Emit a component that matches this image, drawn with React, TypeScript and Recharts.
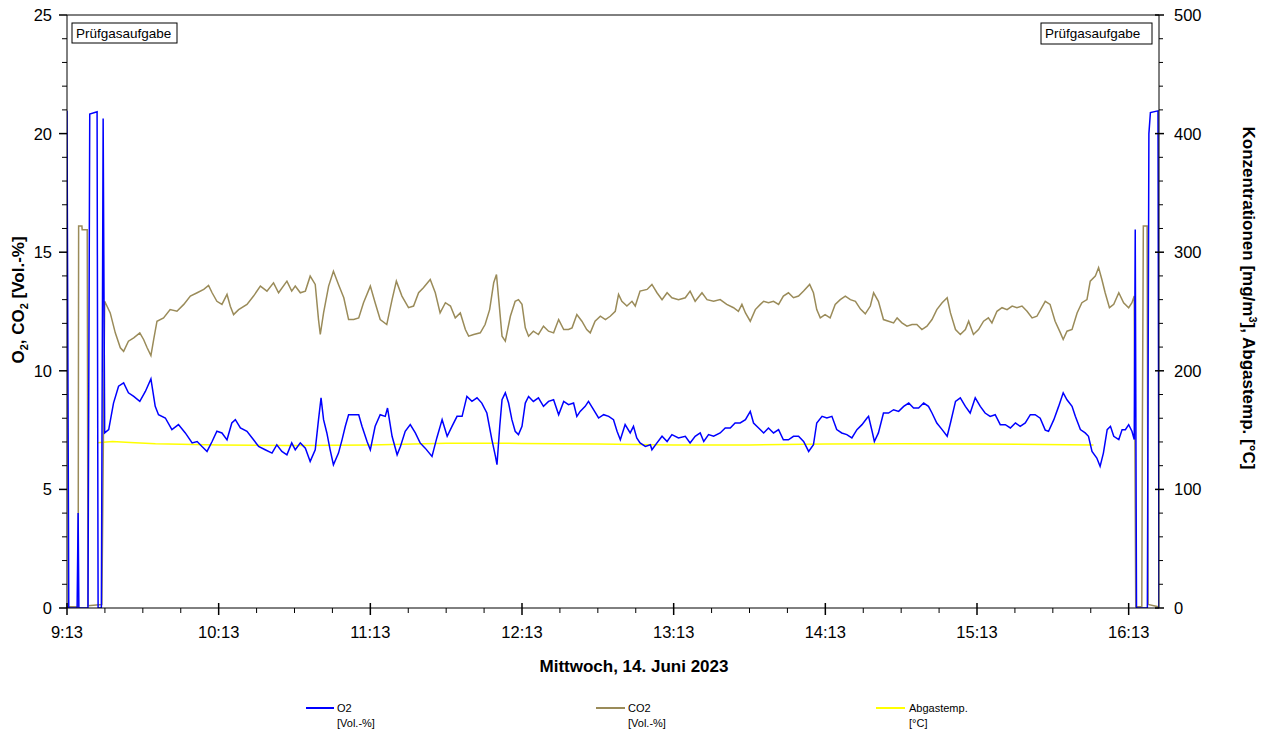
import React from 'react';
import { LineChart, Line, XAxis, YAxis } from 'recharts';

const FONT = 'Liberation Sans, Arial, Helvetica, sans-serif';

// minutes after 9:13
const startClock = 9 * 60 + 13;
const timeTicks = [0, 15, 30, 45, 60, 75, 90, 105, 120, 135, 150, 165, 180, 195, 210, 225, 240, 255, 270, 285, 300, 315, 330, 345, 360, 375, 390, 405, 420];
const volTicks = [0, 1, 2, 3, 4, 5, 6, 7, 8, 9, 10, 11, 12, 13, 14, 15, 16, 17, 18, 19, 20, 21, 22, 23, 24, 25];
const tempTicks = [0, 20, 40, 60, 80, 100, 120, 140, 160, 180, 200, 220, 240, 260, 280, 300, 320, 340, 360, 380, 400, 420, 440, 460, 480, 500];

// [minute, Vol.-%]
const o2Points: [number, number][] = [
  [0, 20.96], [0.7, 0], [4.0, 0], [4.4, 4.0], [4.7, 0], [8.3, 0], [9.0, 20.82], [11.9, 20.92], [12.3, 0], [13.6, 0],
  [14.3, 20.64], [14.9, 7.38], [16.5, 7.52], [18.4, 8.64], [20.4, 9.35], [22.4, 9.49], [24.3, 9.07], [26.4, 8.92],
  [28.8, 8.71], [31.0, 9.13], [33.2, 9.66], [34.9, 8.5], [36.2, 8.15], [38.9, 8.01], [41.5, 7.52], [44.1, 7.73],
  [46.8, 7.38], [49.5, 6.96], [51.5, 7.02], [53.4, 6.81], [55.4, 6.6], [57.4, 7.02], [59.3, 7.45], [61.3, 7.38],
  [63.3, 7.09], [65.2, 7.8], [66.6, 7.94], [68.6, 7.59], [71.2, 7.45], [73.8, 7.09], [75.8, 6.81], [78.4, 6.67],
  [81.1, 6.53], [83.0, 6.88], [85.0, 6.6], [87.0, 6.46], [88.9, 6.96], [90.3, 6.67], [92.3, 6.96], [94.3, 6.74],
  [96.2, 6.18], [98.2, 6.67], [99.5, 7.94], [100.5, 8.86], [101.5, 7.94], [102.8, 7.38], [104.1, 6.67], [105.4, 6.04],
  [107.4, 6.53], [108.8, 7.09], [110.1, 7.66], [111.4, 8.15], [113.4, 8.15], [115.4, 8.15], [116.7, 7.66], [118.7, 7.02],
  [120.0, 6.67], [121.9, 7.66], [123.9, 8.15], [125.9, 8.08], [126.8, 8.43], [128.6, 7.24], [130.6, 6.46], [131.9, 6.81],
  [133.8, 7.45], [135.8, 7.73], [137.8, 7.38], [139.7, 6.96], [141.7, 6.74], [144.4, 6.39], [146.3, 7.17], [148.4, 7.94],
  [150.4, 7.24], [152.3, 7.66], [154.3, 8.08], [156.3, 8.08], [158.2, 8.92], [160.2, 8.71], [162.2, 8.86], [164.1, 8.64],
  [166.1, 8.22], [168.1, 7.09], [169.5, 6.39], [170.1, 6.04], [171.2, 7.66], [172.1, 8.78], [173.4, 9.07], [174.7, 8.64],
  [176.0, 7.94], [177.3, 7.45], [178.6, 7.31], [180.0, 7.66], [181.3, 8.64], [182.6, 8.92], [184.5, 8.71], [186.5, 8.86],
  [188.5, 8.5], [190.5, 8.71], [192.5, 8.78], [194.5, 8.15], [196.5, 8.71], [198.4, 8.57], [200.4, 8.64], [201.7, 8.08],
  [203.0, 8.29], [205.0, 8.5], [206.3, 8.71], [208.3, 8.36], [210.3, 8.01], [212.3, 8.15], [214.3, 8.08], [216.2, 7.94],
  [217.6, 7.45], [218.9, 7.09], [220.8, 7.73], [222.8, 7.38], [224.1, 7.66], [225.4, 7.17], [226.7, 6.96], [228.8, 6.81],
  [230.8, 6.88], [231.4, 6.67], [233.4, 6.96], [235.4, 7.24], [237.4, 7.02], [239.3, 7.31], [241.9, 7.17], [244.6, 7.24],
  [246.5, 6.96], [248.5, 7.24], [250.5, 7.38], [251.9, 7.02], [253.8, 7.31], [255.8, 7.24], [258.4, 7.38], [260.4, 7.59],
  [262.4, 7.59], [264.3, 7.8], [266.3, 7.8], [268.4, 7.94], [270.3, 8.29], [271.6, 7.8], [273.6, 7.59], [275.6, 7.38],
  [277.5, 7.59], [279.5, 7.38], [281.5, 7.52], [283.4, 7.09], [285.4, 7.09], [287.4, 7.24], [289.4, 7.24], [291.4, 7.02],
  [293.4, 6.6], [295.3, 6.88], [296.6, 7.8], [298.7, 8.08], [300.6, 8.01], [302.6, 8.08], [304.5, 7.52], [306.5, 7.38],
  [308.5, 7.31], [310.5, 7.17], [312.5, 7.52], [314.5, 7.73], [316.5, 8.01], [317.1, 8.08], [318.5, 7.45], [319.4, 7.02],
  [321.0, 7.38], [323.0, 8.22], [325.0, 8.22], [327.0, 8.36], [329.0, 8.29], [331.0, 8.5], [333.0, 8.64], [334.9, 8.43],
  [336.9, 8.43], [338.9, 8.64], [340.8, 8.5], [342.2, 8.22], [344.1, 7.8], [346.2, 7.52], [348.2, 7.24], [349.5, 7.8],
  [351.5, 8.71], [353.4, 8.86], [355.4, 8.5], [357.3, 8.22], [359.3, 8.86], [361.3, 8.5], [363.2, 8.22], [365.2, 8.08],
  [367.2, 8.15], [369.2, 7.73], [371.2, 7.73], [373.2, 7.59], [375.2, 7.8], [377.1, 7.66], [379.1, 7.8], [381.1, 8.15],
  [383.0, 8.15], [385.0, 8.0], [387.0, 7.5], [388.3, 7.45], [390.4, 7.94], [392.3, 8.5], [394.1, 9.07], [395.6, 8.78],
  [397.6, 8.5], [398.9, 8.08], [400.9, 7.52], [402.8, 7.38], [404.1, 7.24], [405.5, 6.6], [407.4, 6.32], [408.7, 5.97],
  [410.0, 6.53], [411.5, 7.52], [412.8, 7.66], [414.1, 7.24], [416.1, 7.1], [417.4, 7.52], [418.7, 7.52], [420.0, 7.73],
  [421.3, 7.45], [422.2, 7.1], [422.6, 15.96], [423.1, 0], [427.4, 0], [428.0, 20.0], [428.6, 20.89], [431.6, 20.96], [432.0, 0],
];

const co2Points: [number, number][] = [
  [0, 0.05], [4.4, 0.05], [4.6, 16.1], [5.9, 16.1], [6.0, 15.95], [8.0, 15.95], [8.3, 0.1], [13.8, 0.15], [14.9, 12.93],
  [17.1, 12.44], [19.1, 11.6], [21.1, 10.97], [22.4, 10.82], [24.3, 11.25], [26.4, 11.39], [28.8, 11.6], [30.3, 11.32],
  [31.7, 10.97], [33.2, 10.64], [34.3, 11.32], [35.6, 12.09], [38.2, 12.23], [40.8, 12.58], [43.5, 12.51], [46.2, 12.8],
  [48.8, 13.15], [51.5, 13.29], [54.1, 13.43], [56.0, 13.6], [57.4, 13.29], [59.3, 12.93], [61.3, 12.8], [63.3, 13.22],
  [64.6, 12.72], [65.9, 12.37], [67.9, 12.58], [71.2, 12.8], [73.8, 13.15], [76.5, 13.57], [79.1, 13.36], [81.7, 13.71],
  [83.7, 13.29], [87.0, 13.78], [88.9, 13.36], [90.3, 13.57], [92.3, 13.29], [94.3, 13.36], [96.2, 13.99], [98.2, 13.64],
  [99.5, 12.16], [100.2, 11.53], [101.5, 12.44], [103.5, 13.57], [105.4, 14.2], [107.4, 13.64], [109.5, 13.08], [111.4, 12.16],
  [113.4, 12.16], [115.4, 12.23], [117.3, 12.87], [120.0, 13.57], [121.9, 12.87], [123.9, 12.16], [126.5, 11.95], [128.6, 13.0],
  [130.3, 13.78], [132.5, 13.15], [135.1, 12.66], [137.1, 12.73], [139.1, 13.29], [141.0, 13.5], [143.7, 13.85], [145.7, 13.29],
  [147.6, 12.44], [149.7, 12.87], [151.7, 12.73], [153.6, 12.23], [155.6, 12.44], [157.6, 11.74], [158.9, 11.46], [160.9, 11.53],
  [163.5, 11.6], [165.4, 11.95], [167.2, 12.58], [168.8, 13.71], [169.9, 14.06], [170.8, 13.0], [172.1, 11.46], [173.4, 11.25],
  [175.4, 12.3], [177.3, 12.93], [178.6, 13.0], [180.0, 12.8], [181.3, 11.81], [182.6, 11.46], [184.5, 11.67], [186.5, 11.53],
  [188.5, 11.88], [190.5, 11.67], [192.5, 11.6], [194.5, 12.16], [196.5, 11.74], [198.4, 11.74], [199.8, 11.81], [201.7, 12.37],
  [203.7, 12.09], [205.6, 11.74], [207.0, 11.6], [208.9, 12.09], [211.0, 12.3], [213.0, 12.16], [214.9, 12.3], [216.9, 12.51],
  [218.2, 13.22], [219.5, 12.93], [221.5, 12.73], [223.5, 12.93], [224.8, 12.73], [226.7, 13.36], [229.5, 13.43], [231.4, 13.64],
  [233.4, 13.29], [235.4, 13.0], [237.4, 13.29], [239.3, 13.08], [241.9, 13.0], [244.6, 13.08], [246.5, 13.36], [248.5, 12.93],
  [251.2, 13.29], [253.2, 13.0], [255.8, 12.93], [258.4, 13.0], [261.0, 12.8], [263.7, 12.66], [265.6, 12.51], [267.0, 12.8],
  [268.4, 12.44], [270.3, 12.09], [272.3, 12.58], [274.3, 12.8], [275.6, 12.93], [277.5, 12.87], [279.5, 12.93], [281.5, 12.8],
  [283.4, 13.15], [285.4, 13.29], [287.4, 13.08], [289.4, 13.15], [291.4, 13.36], [293.8, 13.64], [295.3, 13.29], [296.6, 12.58],
  [298.0, 12.23], [299.9, 12.37], [301.9, 12.23], [303.9, 12.8], [305.9, 13.0], [307.9, 13.15], [309.9, 13.0], [311.9, 12.93],
  [313.9, 12.6], [315.8, 12.4], [317.8, 12.73], [319.1, 13.29], [321.0, 12.93], [323.0, 12.16], [325.0, 12.09], [327.0, 12.02],
  [328.4, 12.23], [330.3, 12.02], [332.3, 11.88], [334.3, 11.95], [336.2, 11.95], [338.2, 11.74], [340.2, 11.88], [342.2, 12.16],
  [344.1, 12.58], [346.2, 12.87], [348.2, 13.08], [349.5, 12.44], [351.5, 11.74], [353.4, 11.53], [355.4, 11.74], [356.7, 12.09],
  [358.6, 11.53], [360.6, 11.74], [362.6, 12.09], [364.5, 12.23], [365.9, 12.02], [367.9, 12.51], [369.9, 12.66], [371.9, 12.58],
  [373.9, 12.73], [375.8, 12.66], [377.8, 12.73], [379.8, 12.51], [381.8, 12.23], [383.7, 12.3], [387.0, 12.93], [388.9, 12.8],
  [390.9, 12.09], [393.0, 11.6], [394.1, 11.32], [395.6, 11.67], [397.6, 11.74], [399.6, 12.44], [401.5, 12.87], [403.5, 13.0],
  [404.8, 13.78], [406.8, 13.99], [408.1, 14.35], [409.4, 13.85], [410.7, 13.29], [412.4, 12.66], [414.1, 12.8], [416.1, 13.29],
  [418.0, 12.87], [420.0, 12.66], [421.3, 12.87], [422.2, 13.15], [422.8, 0.05], [425.2, 0.05], [425.4, 7.1], [425.8, 16.1],
  [427.3, 16.1], [427.7, 0.15], [431.7, 0.05],
];

// [minute, °C]
const tempPoints: [number, number][] = [
  [12.0, 139.4], [18, 140.3], [25, 139.5], [35, 138.5], [60, 137.5], [90, 137.0], [120, 137.5], [150, 139.0],
  [180, 138.8], [210, 138.3], [240, 137.5], [270, 137.5], [300, 138.3], [330, 138.5], [360, 138.3], [406.1, 137.5],
];

const toRows = (pts: [number, number][]) => pts.map(([t, v]) => ({ t, v }));
const o2Data = toRows(o2Points);
const co2Data = toRows(co2Points);
const tempData = toRows(tempPoints);

const clock = (m: number) => {
  const total = startClock + m;
  const h = Math.floor(total / 60);
  const mm = total % 60;
  return `${h}:${mm < 10 ? '0' : ''}${mm}`;
};

const TimeTick = (props: any) => {
  const { x, y, payload } = props;
  const major = payload.value % 60 === 0;
  return (
    <g>
      <line x1={x} x2={x} y1={major ? y - 5 : y} y2={y + (major ? 7 : 5)} stroke="#000" strokeWidth={major ? 1.5 : 1} />
      {major && (
        <text x={x} y={y + 30} textAnchor="middle" fontSize={16.5} fontFamily={FONT} fill="#000">
          {clock(payload.value)}
        </text>
      )}
    </g>
  );
};

const LeftTick = (props: any) => {
  const { x, y, payload } = props;
  const major = payload.value % 5 === 0;
  return (
    <g>
      <line x1={x - (major ? 8 : 5)} x2={x} y1={y} y2={y} stroke="#000" strokeWidth={major ? 1.5 : 1} />
      {major && (
        <text x={x - 15} y={y + 6} textAnchor="end" fontSize={16.5} fontFamily={FONT} fill="#000">
          {payload.value}
        </text>
      )}
    </g>
  );
};

const RightTick = (props: any) => {
  const { x, y, payload } = props;
  const major = payload.value % 100 === 0;
  return (
    <g>
      <line x1={x - (major ? 4 : 0)} x2={x + (major ? 5 : 4)} y1={y} y2={y} stroke="#000" strokeWidth={major ? 1.5 : 1} />
      {major && (
        <text x={x + 15} y={y + 6} textAnchor="start" fontSize={16.5} fontFamily={FONT} fill="#000">
          {payload.value}
        </text>
      )}
    </g>
  );
};

const O2_COLOR = '#0000ff';
const CO2_COLOR = '#9a8b59';
const TEMP_COLOR = '#ffff00';

const Overlay = () => (
  <svg width={1273} height={731} style={{ position: 'absolute', left: 0, top: 0, pointerEvents: 'none' }} fontFamily={FONT}>
    <line x1={67} x2={1159} y1={15} y2={15} stroke="#000" strokeWidth={1} />

    <rect x={72} y={23} width={105} height={20} fill="#fff" stroke="#000" strokeWidth={1} />
    <text x={76} y={38} fontSize={13.5} fill="#000">Prüfgasaufgabe</text>
    <rect x={1041} y={23} width={111} height={21} fill="#fff" stroke="#000" strokeWidth={1} />
    <text x={1045} y={38} fontSize={13.5} fill="#000">Prüfgasaufgabe</text>

    <text x={24} y={300} transform="rotate(-90 24 300)" textAnchor="middle" fontSize={17} fontWeight="bold" fill="#000">
      <tspan>O</tspan>
      <tspan dy={4} fontSize={11}>2</tspan>
      <tspan dy={-4}>, CO</tspan>
      <tspan dy={4} fontSize={11}>2</tspan>
      <tspan dy={-4}> [Vol.-%]</tspan>
    </text>

    <text x={1243} y={298} transform="rotate(90 1243 298)" textAnchor="middle" fontSize={17} fontWeight="bold" fill="#000">
      <tspan>Konzentrationen [mg/m</tspan>
      <tspan dy={-6} fontSize={11}>3</tspan>
      <tspan dy={6}>], Abgastemp.  [°C]</tspan>
    </text>

    <text x={634} y={672} textAnchor="middle" fontSize={17} fontWeight="bold" fill="#000">Mittwoch, 14. Juni 2023</text>

    <line x1={306} x2={334} y1={708} y2={708} stroke={O2_COLOR} strokeWidth={2} />
    <text x={337} y={712} fontSize={11} fill="#000">O2</text>
    <text x={337} y={727} fontSize={11} fill="#000">[Vol.-%]</text>

    <line x1={596} x2={625} y1={708} y2={708} stroke={CO2_COLOR} strokeWidth={2} />
    <text x={628} y={712} fontSize={11} fill="#000">CO2</text>
    <text x={628} y={727} fontSize={11} fill="#000">[Vol.-%]</text>

    <line x1={876} x2={905} y1={708} y2={708} stroke={TEMP_COLOR} strokeWidth={2} />
    <text x={909} y={712} fontSize={11} fill="#000">Abgastemp.</text>
    <text x={909} y={727} fontSize={11} fill="#000">[°C]</text>
  </svg>
);

export default function App() {
  return (
    <div style={{ position: 'absolute', left: 0, top: 0, width: 1273, height: 731, background: '#fff' }}>
      <LineChart width={1273} height={731} margin={{ top: 15, right: 0, bottom: 0, left: 0 }}>
        <XAxis
          dataKey="t"
          type="number"
          domain={[0, 432]}
          ticks={timeTicks}
          interval={0}
          allowDataOverflow
          height={123}
          tickSize={0}
          tickMargin={0}
          tickLine={false}
          tick={<TimeTick />}
          axisLine={{ stroke: '#000', strokeWidth: 1 }}
        />
        <YAxis
          yAxisId="left"
          orientation="left"
          type="number"
          domain={[0, 25]}
          ticks={volTicks}
          interval={0}
          allowDataOverflow
          width={67}
          tickSize={0}
          tickMargin={0}
          tickLine={false}
          tick={<LeftTick />}
          axisLine={{ stroke: '#000', strokeWidth: 1 }}
        />
        <YAxis
          yAxisId="right"
          orientation="right"
          type="number"
          domain={[0, 500]}
          ticks={tempTicks}
          interval={0}
          allowDataOverflow
          width={114}
          tickSize={0}
          tickMargin={0}
          tickLine={false}
          tick={<RightTick />}
          axisLine={{ stroke: '#000', strokeWidth: 1 }}
        />
        <Line yAxisId="right" data={tempData} dataKey="v" type="linear" stroke={TEMP_COLOR} strokeWidth={1.5} dot={false} activeDot={false} isAnimationActive={false} />
        <Line yAxisId="left" data={co2Data} dataKey="v" type="linear" stroke={CO2_COLOR} strokeWidth={1.5} dot={false} activeDot={false} isAnimationActive={false} />
        <Line yAxisId="left" data={o2Data} dataKey="v" type="linear" stroke={O2_COLOR} strokeWidth={1.5} dot={false} activeDot={false} isAnimationActive={false} />
      </LineChart>
      <Overlay />
    </div>
  );
}
